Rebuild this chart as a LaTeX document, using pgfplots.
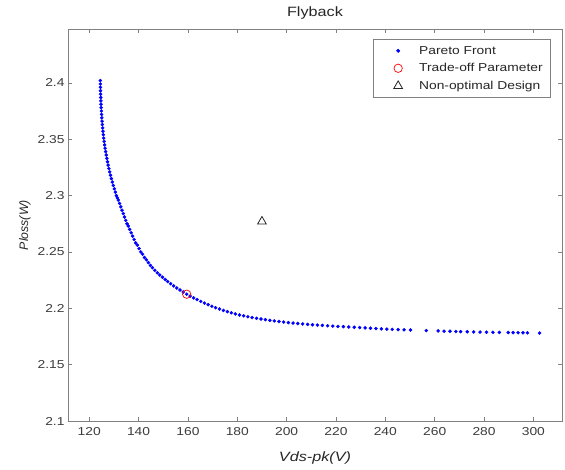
\documentclass[border=0pt]{standalone}
\usepackage{pgfplots}
\pgfplotsset{compat=1.18}
\usepackage{fontspec}
\setmainfont{Liberation Sans}[FakeStretch=1.2]
\newfontfamily\ylabfont{Liberation Sans}
\definecolor{axgray}{RGB}{128,128,128}
\definecolor{txtgray}{RGB}{60,60,60}
\pgfplotsset{myleg/.style={legend image code/.code={\path[draw=none,fill=none] (0pt,-1pt) rectangle (38pt,1pt); \draw[##1] plot coordinates {(19pt,0pt)};}}}
\begin{document}
\begin{tikzpicture}
\begin{axis}[
  at={(0pt,0pt)}, anchor=south west,
  scale only axis, width=494pt, height=391.7pt,
  xmin=111.4, xmax=311.6, ymin=2.1, ymax=2.4475,
  xtick={120,140,...,300},
  ytick={2.1,2.15,2.2,2.25,2.3,2.35,2.4},
  yticklabels={2.1,2.15,2.2,2.25,2.3,2.35,2.4},
  tick align=inside, major tick length=4pt,
  axis line style={axgray, line width=0.8pt},
  every tick/.style={axgray, line width=0.6pt},
  tick label style={font=\fontsize{11.5}{13}\selectfont, text=txtgray},
  xticklabel style={yshift=-3pt},
  /pgf/number format/assume math mode=true,
  xlabel={Vds-pk(V)}, ylabel={Ploss(W)},
  xlabel style={font=\fontsize{13.5}{15}\selectfont\itshape, text=black!85, yshift=-9pt},
  ylabel style={font=\ylabfont\fontsize{12.3}{14}\selectfont\itshape, text=black!85},
  title={Flyback},
  title style={font=\fontsize{13.5}{15}\selectfont, text=black!85},
  legend cell align=left,
  legend style={at={(1,1)}, anchor=north east, xshift=-11pt, yshift=-10pt,
    draw=axgray, line width=0.7pt, fill=white,
    font=\fontsize{11.5}{13}\selectfont, text=black!85,
    inner xsep=6pt, inner ysep=4.5pt, row sep=3.8pt},
]
\addplot[only marks, myleg, mark=*, mark size=1.55pt, color=blue, draw=none] coordinates {
(124.50,2.402) (124.52,2.399) (124.55,2.396) (124.58,2.393) (124.62,2.390)
(124.66,2.387) (124.72,2.384) (124.78,2.381) (124.84,2.378) (124.92,2.375)
(125.00,2.372) (125.10,2.369) (125.20,2.366) (125.32,2.363) (125.45,2.360)
(125.58,2.357) (125.72,2.354) (125.88,2.351) (126.05,2.348) (126.24,2.345)
(126.44,2.342) (126.66,2.339) (126.90,2.336) (127.14,2.333) (127.40,2.330)
(127.68,2.327) (127.98,2.324) (128.30,2.321) (128.62,2.318) (128.98,2.315)
(129.36,2.312) (129.76,2.309) (130.18,2.306) (130.6,2.303) (131.0,2.300)
(131.4,2.298) (131.8,2.296) (132.3,2.293) (132.8,2.290) (133.3,2.287)
(133.8,2.284) (134.3,2.281) (134.8,2.278) (135.3,2.275) (135.8,2.273)
(136.4,2.270) (137.0,2.267) (137.6,2.264) (138.2,2.261) (138.8,2.258)
(139.5,2.256) (140.2,2.253) (140.9,2.250) (141.6,2.248) (142.4,2.245)
(143.2,2.243) (144.0,2.2405) (144.8,2.238) (145.6,2.236) (146.6,2.2337)
(147.6,2.2315) (148.6,2.2295) (149.7,2.2275) (150.8,2.2255) (151.8,2.2237)
(153.0,2.2218) (154.2,2.2199) (155.5,2.2180) (156.8,2.2162) (158.1,2.2144)
(159.5,2.2125) (160.9,2.2108) (162.3,2.2092) (163.7,2.2077) (165.2,2.2061)
(166.7,2.2046) (168.2,2.2032) (169.7,2.2018) (171.2,2.2005) (172.8,2.1993)
(174.4,2.1981) (176.0,2.1970) (177.6,2.1960) (179.2,2.1950) (180.9,2.1941)
(182.6,2.1933) (184.3,2.1925) (186.0,2.1918) (187.8,2.1911) (189.6,2.1905)
(191.4,2.1899) (193.2,2.1893) (195.0,2.1888) (196.9,2.1883) (198.8,2.1878)
(200.7,2.1873) (202.6,2.1869) (204.5,2.1865) (206.5,2.1861) (208.5,2.1857)
(210.5,2.1854) (212.5,2.1851) (214.5,2.1848) (216.6,2.1845) (218.7,2.1842)
(220.8,2.1839) (223.0,2.1837) (225.2,2.1834) (227.4,2.1832) (229.6,2.1829)
(231.8,2.1826) (234.0,2.1823) (236.2,2.1820) (238.4,2.1818) (240.6,2.1815)
(242.8,2.1813) (245.2,2.1811) (247.6,2.1809) (250.2,2.1807) (256.6,2.1802)
(261.4,2.1799) (263.8,2.1797) (266.2,2.1796) (268.6,2.1794) (270.5,2.1793)
(273.2,2.1792) (275.8,2.1790) (278.4,2.1789) (281.0,2.1788) (283.6,2.1787)
(286.2,2.1786) (289.8,2.1785) (291.8,2.1784) (293.8,2.1783) (295.8,2.1783)
(297.6,2.1782) (302.5,2.1780)
};
\addlegendentry{Pareto Front}
\addplot[only marks, myleg, mark=o, mark size=4.2pt, color=red, mark options={line width=0.7pt}] coordinates {(159.5,2.2125)};
\addlegendentry{Trade-off Parameter}
\addplot[only marks, myleg, mark=triangle, mark size=5pt, color=black!85, mark options={line width=0.8pt}] coordinates {(190,2.277)};
\addlegendentry{Non-optimal Design}
\end{axis}
\pgfresetboundingbox
\path (-68pt,-48pt) rectangle (497pt,421pt);
\end{tikzpicture}
\end{document}
